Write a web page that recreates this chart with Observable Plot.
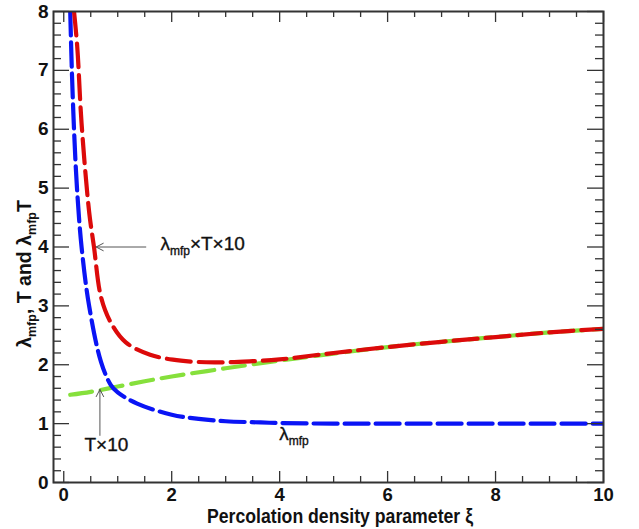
<!DOCTYPE html>
<html><head><meta charset="utf-8">
<script src="https://cdn.jsdelivr.net/npm/d3@7"></script>
<script src="https://cdn.jsdelivr.net/npm/@observablehq/plot@0.6"></script>
<style>html,body{margin:0;padding:0;background:#fff}</style>
</head><body><div id="chart"></div>
<script>
// ---- data ----
const xiBlue   = [0.12, 0.15, 0.19, 0.245, 0.33, 0.47, 0.69, 0.87, 1.0, 1.36, 2.0, 2.5, 3.0, 3.65, 4.0, 5, 6, 7, 8, 9, 10];
const lambdaMfp = [8.0, 7.0, 6.0, 5.0, 4.0, 3.0, 2.05, 1.66, 1.53, 1.34, 1.15, 1.08, 1.04, 1.02, 1.01, 1.0, 1.0, 1.0, 1.0, 1.0, 1.0];
const xiRed    = [0.19, 0.25, 0.33, 0.47, 0.56, 0.69, 0.87, 1.15, 1.6, 2.17, 2.8, 3.5, 4.0, 5, 6, 7, 8, 9, 10];
const lambdaT10 = [8.0, 7.4, 6.1, 4.6, 4.0, 3.15, 2.72, 2.38, 2.17, 2.07, 2.04, 2.06, 2.09, 2.2, 2.3, 2.39, 2.47, 2.55, 2.61];
const xiGreen  = [0.12, 0.5, 1.0, 1.5, 2.0, 3.0, 4.0, 5.0, 6.0, 7.0, 8.0, 9.0, 10.0];
const T10      = [1.49, 1.54, 1.63, 1.72, 1.80, 1.94, 2.07, 2.19, 2.30, 2.39, 2.47, 2.55, 2.61];

const xMajor = [0, 2, 4, 6, 8, 10];
const xMinor = d3.range(0, 10.001, 0.5).filter(v => v % 2 !== 0);
const yMajor = [0, 1, 2, 3, 4, 5, 6, 7, 8];
const yMinor = d3.range(0, 8.001, 0.2).map(v => +v.toFixed(1)).filter(v => v % 1 !== 0);

// annotations in data coordinates
const arrows = [
  {x1: 1.52, y1: 4.0, x2: 0.60, y2: 4.0},
  {x1: 0.67, y1: 0.80, x2: 0.67, y2: 1.58}
];
const labels = [
  {x: 1.80, y: 4.0, parts: [["λ", 0], ["mfp", 1], ["×T×10", 0]], anchor: "start"},
  {x: 0.80, y: 0.58, parts: [["T×10", 0]], anchor: "middle"},
  {x: 4.00, y: 0.78, parts: [["λ", 0], ["mfp", 1]], anchor: "start"}
];
const yLabelParts = [["λ", 0], ["mfp", 1], [", T and λ", 0], ["mfp", 1], ["T", 0]];
const xTitle = "Percolation density parameter ξ";

const series = [
  {x: xiGreen, y: T10, color: "#86e03c", dash: "22,9"},
  {x: xiBlue, y: lambdaMfp, color: "#0a14f5", dash: "24,7"},
  {x: xiRed, y: lambdaT10, color: "#dc0a0a", dash: "24,8"}
];

const W = 639, H = 529, mL = 53, mR = 36, mT = 11, mB = 47;
const innerW = W - mL - mR, innerH = H - mT - mB;
const axisColor = "#333";
const font = "'Liberation Sans', Arial, Helvetica, sans-serif";
const tk = {stroke: axisColor, strokeWidth: 1.3};

const plot = Plot.plot({
  width: W, height: H,
  marginLeft: mL, marginRight: mR, marginTop: mT, marginBottom: mB,
  x: {domain: [-0.19, 10]},
  y: {domain: [0, 8]},
  style: {fontFamily: font, background: "#fff"},
  marks: [
    ...series.map(s => Plot.line(s.x.map((v, i) => ({x: v, y: s.y[i]})), {
      x: "x", y: "y", stroke: s.color, strokeWidth: 4.2, strokeDasharray: s.dash,
      curve: "catmull-rom", clip: true
    })),
    Plot.arrow(arrows, {x1: "x1", y1: "y1", x2: "x2", y2: "y2", stroke: "#555", strokeWidth: 1, headLength: 12, headAngle: 55}),
    // inward ticks on all four sides
    Plot.tickX(xMajor, {x: d => d, insetTop: innerH - 11, ...tk}),
    Plot.tickX(xMinor, {x: d => d, insetTop: innerH - 6, ...tk}),
    Plot.tickX(xMajor, {x: d => d, insetBottom: innerH - 11, ...tk}),
    Plot.tickX(xMinor, {x: d => d, insetBottom: innerH - 6, ...tk}),
    Plot.tickY(yMajor, {y: d => d, insetRight: innerW - 16, ...tk}),
    Plot.tickY(yMinor, {y: d => d, insetRight: innerW - 8, ...tk}),
    Plot.tickY(yMajor, {y: d => d, insetLeft: innerW - 16, ...tk}),
    Plot.tickY(yMinor, {y: d => d, insetLeft: innerW - 8, ...tk}),
    // tick labels
    Plot.axisX(xMajor, {anchor: "bottom", tickSize: 0, tickPadding: 5, tickFormat: d3.format("d"), fontSize: 18.5, fontWeight: "bold", fill: "#111", label: null}),
    Plot.axisY(yMajor, {anchor: "left", tickSize: 0, tickPadding: 5, tickFormat: d3.format("d"), fontSize: 19, fontWeight: "bold", fill: "#111", label: null}),
    Plot.frame({stroke: axisColor, strokeWidth: 2})
  ]
});

document.getElementById("chart").appendChild(plot);
const svg = d3.select(plot);
svg.selectAll("text").style("font-family", font);
const sx = plot.scale("x"), sy = plot.scale("y");

function rich(g, parts, size, subSize, shift) {
  let sub = 0;
  parts.forEach(([t, s]) => {
    const ts = g.append("tspan").text(t).attr("font-size", s ? subSize : size);
    if (s !== sub) ts.attr("dy", s ? shift : -shift);
    sub = s;
  });
}

labels.forEach(l => {
  const g = svg.append("text")
    .attr("x", sx.apply(l.x)).attr("y", sy.apply(l.y))
    .attr("dy", "0.36em")
    .attr("text-anchor", l.anchor)
    .attr("fill", "#111")
    .attr("stroke", "#111")
    .attr("stroke-width", 0.35)
    .style("font-family", font);
  rich(g, l.parts, 19, 12, 5);
});

const yl = svg.append("text")
  .attr("transform", "translate(31,274) rotate(-90)")
  .attr("text-anchor", "middle")
  .attr("font-weight", "bold")
  .attr("fill", "#111")
  .style("font-family", font);
rich(yl, yLabelParts, 19.5, 12.5, 5);

svg.append("text")
  .attr("x", 340).attr("y", 523)
  .attr("text-anchor", "middle")
  .attr("font-weight", "bold")
  .attr("font-size", 20.5)
  .attr("textLength", 266)
  .attr("lengthAdjust", "spacingAndGlyphs")
  .attr("fill", "#111")
  .style("font-family", font)
  .text(xTitle);
</script>
</body></html>
